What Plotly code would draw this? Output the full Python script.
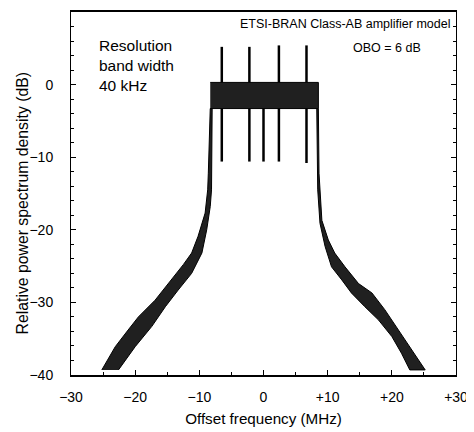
import plotly.graph_objects as go

# Spectrum envelope (MHz, dB)
left_outer_x = [-25.2, -23.1, -21.1, -19.5, -16.9, -14.8, -12.5, -11.2, -10.2, -9.1, -8.7, -8.6, -8.4, -8.3]
left_outer_y = [-39.3, -36.1, -33.8, -32.0, -29.7, -27.4, -24.8, -23.2, -20.9, -17.7, -14.5, -12.2, -7.6, -3.3]
left_inner_x = [-8.0, -8.0, -8.1, -8.3, -8.85, -9.6, -11.2, -13.3, -15.3, -17.4, -20.0, -22.6]
left_inner_y = [-3.3, -7.6, -14.5, -16.8, -20.0, -23.2, -26.0, -28.3, -30.6, -33.3, -36.1, -39.3]

right_outer_x = [8.55, 8.6, 8.65, 9.1, 10.1, 11.1, 12.7, 14.8, 16.9, 18.9, 21.0, 23.1, 25.2]
right_outer_y = [-3.3, -7.6, -12.2, -18.7, -21.4, -23.2, -25.1, -27.4, -28.7, -31.0, -33.8, -36.6, -39.3]
right_inner_x = [22.8, 21.5, 20.0, 17.9, 15.8, 13.7, 12.2, 10.6, 9.6, 8.8, 8.45, 8.3, 8.3]
right_inner_y = [-39.3, -37.0, -34.7, -32.4, -30.6, -28.7, -26.9, -25.1, -22.3, -19.1, -14.5, -7.6, -3.3]

# In-band ripple limits
band_x = [-8.3, 8.55]
band_top = 0.3
band_bottom = -3.3

# Pilot spikes and notches
spike_up_x = [-6.5, -2.2, 2.4, 6.7]
spike_up_top = [5.2, 5.2, 5.4, 5.4]
spike_down_x = [-6.5, -2.2, 0.0, 2.4, 6.7]
spike_down_bottom = [-10.6, -10.6, -10.6, -10.6, -10.8]

x_ticks = [-30, -20, -10, 0, 10, 20, 30]
x_labels = ["\u221230", "\u221220", "\u221210", "0", "+10", "+20", "+30"]
y_ticks = [10, 0, -10, -20, -30, -40]
y_labels = ["+10", "0", "\u221210", "\u221220", "\u221230", "\u221240"]

ink = "#202020"
fig = go.Figure()

# skirts as closed polygons
fig.add_trace(go.Scatter(x=left_outer_x + left_inner_x, y=left_outer_y + left_inner_y,
                         fill="toself", fillcolor=ink, mode="lines",
                         line=dict(color="black", width=1), hoverinfo="skip"))
fig.add_trace(go.Scatter(x=right_outer_x + right_inner_x, y=right_outer_y + right_inner_y,
                         fill="toself", fillcolor=ink, mode="lines",
                         line=dict(color="black", width=1), hoverinfo="skip"))

# in-band block
fig.add_trace(go.Scatter(x=[band_x[0], band_x[1], band_x[1], band_x[0]],
                         y=[band_top, band_top, band_bottom, band_bottom],
                         fill="toself", fillcolor=ink, mode="lines",
                         line=dict(color="black", width=1), hoverinfo="skip"))

# spikes
sx, sy = [], []
for x, t in zip(spike_up_x, spike_up_top):
    sx += [x, x, None]
    sy += [band_top, t, None]
for x, b in zip(spike_down_x, spike_down_bottom):
    sx += [x, x, None]
    sy += [band_bottom, b, None]
fig.add_trace(go.Scatter(x=sx, y=sy, mode="lines",
                         line=dict(color="black", width=2.5), hoverinfo="skip"))

font = "Arial, Liberation Sans, sans-serif"
fig.add_annotation(x=-26, y=2.6, text="Resolution<br>band width<br>40 kHz",
                   xanchor="left", yanchor="middle", align="left", showarrow=False,
                   font=dict(size=15.5, color="black", family=font))
fig.add_annotation(xref="paper", yref="paper", x=1, y=0.966, xshift=-4,
                   text="ETSI-BRAN Class-AB amplifier model",
                   xanchor="right", yanchor="middle", showarrow=False,
                   font=dict(size=12.5, color="black", family=font))
fig.add_annotation(x=19.3, y=5.1, text="OBO = 6 dB",
                   xanchor="center", yanchor="middle", showarrow=False,
                   font=dict(size=12.5, color="black", family=font))
# y axis title placed by hand
fig.add_annotation(xref="paper", yref="paper", x=0, y=0.5, xshift=-49, yshift=-10,
                   text="Relative power spectrum density (dB)", textangle=-90,
                   xanchor="center", yanchor="middle", showarrow=False,
                   font=dict(size=15.8, color="black", family=font))

# page body adds an 8px offset, so the figure is 8px smaller on each axis
fig.update_layout(
    width=466, height=424,
    margin=dict(l=63, r=18, t=4, b=57),
    paper_bgcolor="white", plot_bgcolor="white",
    showlegend=False,
    font=dict(family=font, size=14, color="black"),
    xaxis=dict(
        range=[-30, 30], tickvals=x_ticks, ticktext=x_labels,
        ticks="inside", ticklen=5, tickcolor="black",
        minor=dict(dtick=5, ticks="inside", ticklen=3, tickcolor="black"),
        showline=True, linecolor="black", linewidth=1.8, mirror=True,
        showgrid=False, zeroline=False, ticklabelstandoff=8, automargin=False,
        title=dict(text="Offset frequency (MHz)", standoff=10, font=dict(size=15.2)),
    ),
    yaxis=dict(
        range=[-40, 10], tickvals=y_ticks, ticktext=y_labels,
        ticks="inside", ticklen=5, tickcolor="black",
        minor=dict(dtick=2, ticks="inside", ticklen=3, tickcolor="black"),
        showline=True, linecolor="black", linewidth=1, mirror="ticks",
        showgrid=False, zeroline=False, ticklabelstandoff=14, automargin=False,
    ),
)

fig.write_html("out.html")
